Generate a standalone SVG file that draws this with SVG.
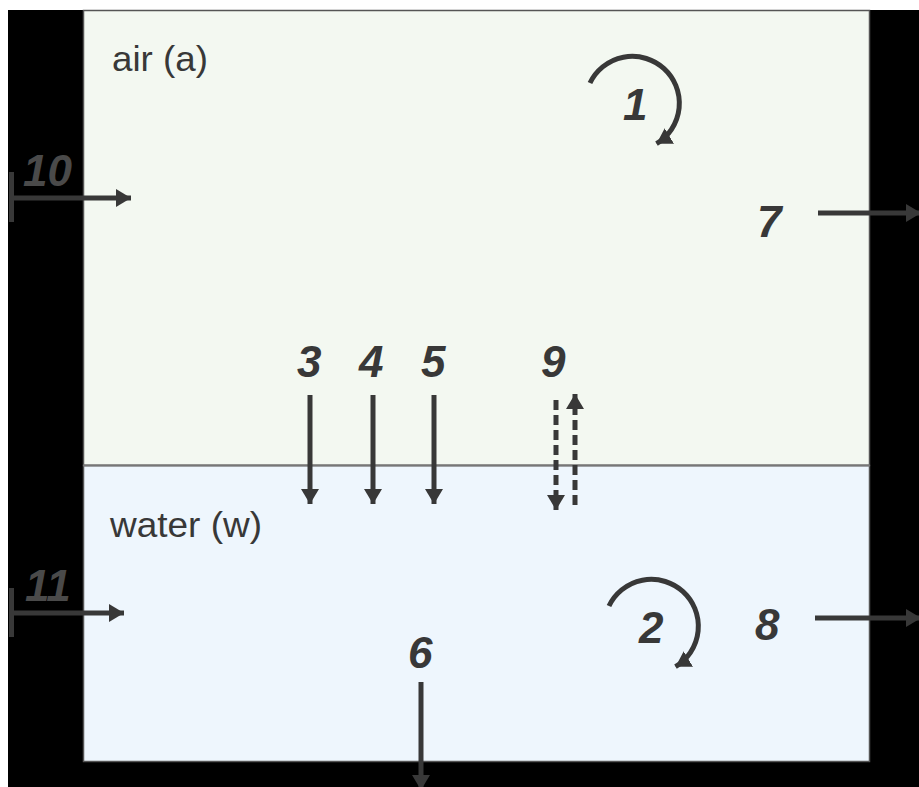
<svg xmlns="http://www.w3.org/2000/svg" width="919" height="787" viewBox="0 0 919 787">
<defs>
<style>
.ln{stroke:#383838;stroke-width:5;fill:none}
.dash{stroke:#383838;stroke-width:5;fill:none;stroke-dasharray:10 5}
.num{font-family:"Liberation Sans",Arial,sans-serif;font-weight:bold;font-style:italic;font-size:44px;fill:#383838}
.num2{font-family:"Liberation Sans",Arial,sans-serif;font-weight:bold;font-style:italic;font-size:44px;fill:#4a4a4a}
.lbl{font-family:"Liberation Sans",Arial,sans-serif;font-size:35px;fill:#383838}
</style>
<marker id="ah" viewBox="0 0 10 12" refX="10" refY="6" markerWidth="3" markerHeight="3.6" markerUnits="strokeWidth" orient="auto">
<path d="M0,0 L10,6 L0,12 z" fill="#383838"/>
</marker>
</defs>
<rect x="0" y="0" width="919" height="787" fill="#ffffff"/>
<rect x="8" y="10" width="911" height="777" fill="#000000"/>
<g id="air">
<rect x="83.5" y="10.5" width="786" height="455" fill="#f3f8f1" stroke="#555" stroke-width="1.5"/>
<text class="lbl" x="112" y="71" textLength="96" lengthAdjust="spacingAndGlyphs">air (a)</text>
</g>
<g id="water">
<rect x="83.5" y="465.5" width="786" height="296" fill="#eef6fd" stroke="#555" stroke-width="1.5"/>
<text class="lbl" x="110" y="537" textLength="152" lengthAdjust="spacingAndGlyphs">water (w)</text>
</g>
<line x1="83" y1="465.5" x2="870" y2="465.5" stroke="#777" stroke-width="2"/>
<g id="connectors">
<path class="ln" d="M11.5,172 V222"/>
<path class="ln" d="M11.5,198 H131" marker-end="url(#ah)"/>
<path class="ln" d="M11.5,588 V637"/>
<path class="ln" d="M11.5,613 H124" marker-end="url(#ah)"/>
<path class="ln" d="M818,213 H921" marker-end="url(#ah)"/>
<path class="ln" d="M815,618 H921" marker-end="url(#ah)"/>
<path class="ln" d="M310,395 V504" marker-end="url(#ah)"/>
<path class="ln" d="M373,395 V504" marker-end="url(#ah)"/>
<path class="ln" d="M434,395 V504" marker-end="url(#ah)"/>
<path class="dash" d="M556,400 V510" marker-end="url(#ah)"/>
<path class="dash" d="M575,505 V394" marker-end="url(#ah)"/>
<path class="ln" d="M421,682 V790" marker-end="url(#ah)"/>
<path class="ln" d="M590,83 A47,47 0 1 1 656.5,143.7" marker-end="url(#ah)"/>
<path class="ln" d="M609,606 A47,47 0 1 1 675.5,666.7" marker-end="url(#ah)"/>
</g>
<g id="labels">
<text class="num2" x="23" y="186">10</text>
<text class="num2" x="25" y="601">11</text>
<text class="num" x="623" y="120">1</text>
<text class="num" x="757" y="237">7</text>
<text class="num" x="297" y="377">3</text>
<text class="num" x="359" y="377">4</text>
<text class="num" x="421" y="377">5</text>
<text class="num" x="541" y="377">9</text>
<text class="num" x="639" y="643">2</text>
<text class="num" x="755" y="640">8</text>
<text class="num" x="408" y="668">6</text>
</g>
</svg>
